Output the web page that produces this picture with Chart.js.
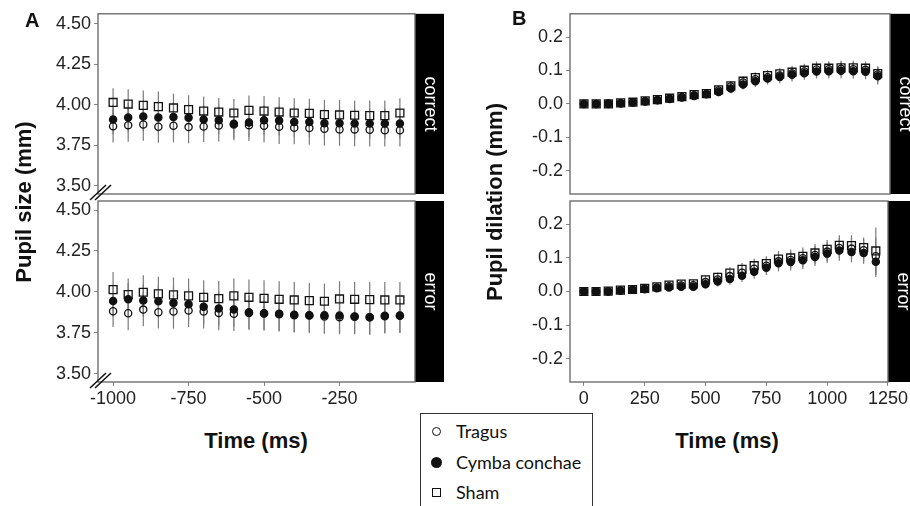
<!DOCTYPE html>
<html>
<head>
<meta charset="utf-8">
<script src="https://cdn.jsdelivr.net/npm/chart.js@4.4.1/dist/chart.umd.min.js"></script>
<style>
  body { margin: 0; background: #fff; width: 910px; height: 506px; overflow: hidden; position: relative; font-family: "Liberation Sans", Arial, sans-serif; }
  canvas { position: absolute; }
  .lbl { position: absolute; font-weight: bold; color: #111; white-space: nowrap; }
  .ytitle { position: absolute; font-weight: bold; font-size: 22px; color: #111; white-space: nowrap; transform: translate(-50%, -50%) rotate(-90deg); }
  .xtitle { position: absolute; font-weight: bold; font-size: 22px; color: #111; white-space: nowrap; transform: translate(-50%, -50%); }
  #legend { position: absolute; left: 420px; top: 413px; width: 171px; height: 110px; border: 1px solid #333; font-family: Lato, "Open Sans", sans-serif; font-size: 18px; color: #111; }
  .row { position: absolute; left: 0; width: 170px; height: 24px; line-height: 24px; white-space: nowrap; }
  .row span.t { position: absolute; left: 35px; top: 0; white-space: nowrap; }
  .mk { position: absolute; box-sizing: border-box; }
</style>
</head>
<body>
<canvas id="aTop" width="446" height="210" style="left:0;top:0"></canvas>
<canvas id="aBot" width="446" height="225" style="left:0;top:185px"></canvas>
<canvas id="bTop" width="450" height="210" style="left:460px;top:0"></canvas>
<canvas id="bBot" width="450" height="225" style="left:460px;top:185px"></canvas>

<div class="lbl" style="left:25px;top:9px;font-size:20px">A</div>
<div class="lbl" style="left:512px;top:7px;font-size:20px">B</div>
<div class="ytitle" style="left:24px;top:202px">Pupil size (mm)</div>
<div class="ytitle" style="left:495px;top:202px">Pupil dilation (mm)</div>
<div class="xtitle" style="left:256px;top:441px">Time (ms)</div>
<div class="xtitle" style="left:727px;top:441px">Time (ms)</div>

<div id="legend">
  <div class="row" style="top:5px"><div class="mk" style="left:11px;top:8px;width:9px;height:9px;border:1.3px solid #111;border-radius:50%"></div><span class="t">Tragus</span></div>
  <div class="row" style="top:36px"><div class="mk" style="left:10px;top:7px;width:11px;height:11px;background:#111;border-radius:50%"></div><span class="t">Cymba conchae</span></div>
  <div class="row" style="top:66px"><div class="mk" style="left:11px;top:8px;width:9px;height:9px;border:1.3px solid #111"></div><span class="t">Sham</span></div>
</div>

<script>
// ---- data ----
const timesA = [-1000, -950, -900, -850, -800, -750, -700, -650, -600, -550, -500, -450, -400, -350, -300, -250, -200, -150, -100, -50];
const timesB = [0, 50, 100, 150, 200, 250, 300, 350, 400, 450, 500, 550, 600, 650, 700, 750, 800, 850, 900, 950, 1000, 1050, 1100, 1150, 1200];

const ticksAx = [-1000, -750, -500, -250];
const ticksAy = [3.5, 3.75, 4.0, 4.25, 4.5];
const ticksBx = [0, 250, 500, 750, 1000, 1250];
const ticksBy = [-0.2, -0.1, 0.0, 0.1, 0.2];

// A: pupil size, correct trials
const aCorTragus = [3.868, 3.874, 3.878, 3.864, 3.870, 3.862, 3.866, 3.872, 3.878, 3.874, 3.870, 3.864, 3.858, 3.856, 3.852, 3.848, 3.848, 3.846, 3.843, 3.843];
const aCorCymba  = [3.909, 3.921, 3.927, 3.921, 3.925, 3.919, 3.909, 3.905, 3.882, 3.890, 3.905, 3.902, 3.894, 3.894, 3.886, 3.886, 3.884, 3.884, 3.884, 3.884];
const aCorSham   = [4.014, 4.004, 3.996, 3.988, 3.980, 3.970, 3.961, 3.955, 3.949, 3.965, 3.961, 3.955, 3.949, 3.947, 3.939, 3.937, 3.935, 3.933, 3.933, 3.949];
const aCorTragusErr = [0.100, 0.102, 0.100, 0.098, 0.102, 0.100, 0.096, 0.099, 0.097, 0.098, 0.102, 0.106, 0.101, 0.103, 0.104, 0.101, 0.104, 0.103, 0.101, 0.101];
const aCorCymbaErr  = [0.092, 0.090, 0.091, 0.090, 0.092, 0.091, 0.090, 0.089, 0.090, 0.091, 0.092, 0.091, 0.092, 0.093, 0.092, 0.093, 0.092, 0.093, 0.092, 0.092];
const aCorShamErr   = [0.088, 0.091, 0.091, 0.093, 0.088, 0.088, 0.089, 0.086, 0.086, 0.091, 0.093, 0.091, 0.091, 0.089, 0.091, 0.093, 0.091, 0.093, 0.093, 0.091];

// A: pupil size, error trials
const aErrTragus = [3.882, 3.870, 3.892, 3.876, 3.880, 3.886, 3.880, 3.872, 3.866, 3.872, 3.868, 3.864, 3.858, 3.856, 3.850, 3.846, 3.848, 3.846, 3.852, 3.854];
const aErrCymba  = [3.945, 3.955, 3.947, 3.943, 3.933, 3.925, 3.909, 3.898, 3.892, 3.876, 3.870, 3.866, 3.860, 3.858, 3.858, 3.856, 3.850, 3.846, 3.854, 3.856];
const aErrSham   = [4.014, 3.984, 3.998, 3.988, 3.982, 3.976, 3.967, 3.959, 3.976, 3.967, 3.961, 3.955, 3.951, 3.947, 3.943, 3.957, 3.955, 3.953, 3.951, 3.951];
const aErrTragusErr = [0.096, 0.104, 0.102, 0.100, 0.104, 0.100, 0.104, 0.106, 0.104, 0.102, 0.102, 0.104, 0.104, 0.106, 0.106, 0.104, 0.104, 0.106, 0.104, 0.104];
const aErrCymbaErr  = [0.098, 0.100, 0.099, 0.100, 0.101, 0.102, 0.103, 0.104, 0.104, 0.105, 0.106, 0.106, 0.106, 0.107, 0.108, 0.108, 0.108, 0.108, 0.107, 0.107];
const aErrShamErr   = [0.108, 0.098, 0.104, 0.104, 0.106, 0.106, 0.104, 0.108, 0.106, 0.108, 0.110, 0.110, 0.110, 0.108, 0.108, 0.108, 0.106, 0.108, 0.110, 0.110];

// B: pupil dilation, correct trials
const bCorTragus = [0, 0, 0, 0.002, 0.005, 0.008, 0.012, 0.016, 0.021, 0.026, 0.030, 0.040, 0.052, 0.064, 0.074, 0.080, 0.085, 0.091, 0.097, 0.103, 0.104, 0.105, 0.104, 0.102, 0.088];
const bCorCymba  = [0, 0, 0.001, 0.002, 0.004, 0.007, 0.011, 0.015, 0.019, 0.024, 0.029, 0.036, 0.046, 0.058, 0.068, 0.076, 0.081, 0.087, 0.092, 0.097, 0.098, 0.099, 0.098, 0.096, 0.083];
const bCorSham   = [0, 0, 0, 0.003, 0.005, 0.009, 0.013, 0.017, 0.022, 0.028, 0.031, 0.042, 0.054, 0.068, 0.079, 0.085, 0.090, 0.095, 0.101, 0.107, 0.107, 0.108, 0.108, 0.107, 0.091];
const bCorTragusErr = [0.002, 0.003, 0.003, 0.004, 0.005, 0.006, 0.007, 0.008, 0.009, 0.010, 0.011, 0.012, 0.014, 0.015, 0.016, 0.017, 0.018, 0.019, 0.019, 0.020, 0.021, 0.021, 0.021, 0.021, 0.023];
const bCorCymbaErr  = [0.002, 0.003, 0.003, 0.004, 0.005, 0.006, 0.007, 0.008, 0.009, 0.010, 0.011, 0.013, 0.014, 0.015, 0.017, 0.018, 0.019, 0.020, 0.020, 0.021, 0.022, 0.022, 0.022, 0.022, 0.025];
const bCorShamErr   = [0.002, 0.003, 0.003, 0.004, 0.005, 0.006, 0.007, 0.008, 0.009, 0.010, 0.011, 0.012, 0.014, 0.015, 0.016, 0.017, 0.018, 0.019, 0.019, 0.020, 0.021, 0.021, 0.021, 0.020, 0.022];

// B: pupil dilation, error trials
const bErrTragus = [0, 0, 0.001, 0.003, 0.005, 0.008, 0.012, 0.016, 0.018, 0.019, 0.028, 0.036, 0.046, 0.056, 0.068, 0.077, 0.090, 0.094, 0.099, 0.109, 0.119, 0.130, 0.128, 0.123, 0.105];
const bErrCymba  = [0, 0, 0, 0.003, 0.005, 0.007, 0.010, 0.012, 0.014, 0.014, 0.022, 0.030, 0.037, 0.047, 0.059, 0.071, 0.084, 0.088, 0.093, 0.103, 0.113, 0.122, 0.118, 0.115, 0.089];
const bErrSham   = [0, 0, 0.001, 0.004, 0.006, 0.009, 0.014, 0.019, 0.022, 0.023, 0.035, 0.042, 0.055, 0.066, 0.077, 0.083, 0.097, 0.100, 0.105, 0.115, 0.126, 0.138, 0.137, 0.131, 0.121];
const bErrTragusErr = [0.002, 0.003, 0.004, 0.005, 0.006, 0.007, 0.008, 0.010, 0.011, 0.012, 0.013, 0.015, 0.017, 0.019, 0.021, 0.022, 0.024, 0.025, 0.026, 0.027, 0.028, 0.030, 0.031, 0.032, 0.055];
const bErrCymbaErr  = [0.002, 0.003, 0.004, 0.005, 0.006, 0.007, 0.008, 0.010, 0.011, 0.012, 0.013, 0.015, 0.017, 0.019, 0.021, 0.022, 0.024, 0.025, 0.026, 0.027, 0.028, 0.030, 0.031, 0.032, 0.046];
const bErrShamErr   = [0.002, 0.003, 0.004, 0.005, 0.006, 0.007, 0.008, 0.010, 0.011, 0.012, 0.013, 0.015, 0.017, 0.019, 0.021, 0.022, 0.024, 0.025, 0.026, 0.027, 0.028, 0.030, 0.031, 0.030, 0.070];

// ---- helpers ----
const INK = '#111';
const FRAME = '#6e6e6e';

function series(x, y, err, kind) {
  const base = {
    data: x.map((t, i) => ({ x: t, y: y[i] })),
    errors: err,
    borderColor: INK,
    borderWidth: 1.3,
    showLine: false,
  };
  if (kind === 'tragus') return Object.assign(base, { label: 'Tragus', pointStyle: 'circle', pointRadius: 3.6, backgroundColor: 'rgba(0,0,0,0)' });
  if (kind === 'cymba') return Object.assign(base, { label: 'Cymba conchae', pointStyle: 'circle', pointRadius: 3.6, backgroundColor: INK });
  return Object.assign(base, { label: 'Sham', pointStyle: 'rect', pointRadius: 5.6, backgroundColor: 'rgba(0,0,0,0)' });
}

// error bars, panel frame, facet strip, axis break
const panelDeco = {
  id: 'panelDeco',
  beforeDatasetsDraw(chart) {
    const { ctx, scales: { x, y } } = chart;
    ctx.save();
    ctx.strokeStyle = '#7a7a7a';
    ctx.lineWidth = 1.2;
    chart.data.datasets.forEach(ds => {
      ds.data.forEach((p, i) => {
        const e = ds.errors[i];
        const px = x.getPixelForValue(p.x);
        ctx.beginPath();
        ctx.moveTo(px, y.getPixelForValue(p.y - e));
        ctx.lineTo(px, y.getPixelForValue(p.y + e));
        ctx.stroke();
      });
    });
    ctx.restore();
  },
  afterDraw(chart, args, opts) {
    const { ctx, chartArea: a } = chart;
    ctx.save();
    // strip
    ctx.fillStyle = '#000';
    ctx.fillRect(a.right, a.top, 29, a.bottom - a.top);
    ctx.fillStyle = '#fff';
    ctx.font = '18px "Liberation Sans", Arial, sans-serif';
    ctx.textAlign = 'center';
    ctx.textBaseline = 'middle';
    ctx.translate(a.right + 14.5, (a.top + a.bottom) / 2);
    ctx.rotate(Math.PI / 2);
    ctx.fillText(opts.strip, 0, 0);
    ctx.restore();
    // frame
    ctx.save();
    ctx.strokeStyle = FRAME;
    ctx.lineWidth = 1.4;
    ctx.strokeRect(a.left, a.top, a.right - a.left, a.bottom - a.top);
    if (opts.brk) {
      ctx.strokeStyle = INK;
      ctx.lineWidth = 1.5;
      [0, 5].forEach(d => {
        ctx.beginPath();
        ctx.moveTo(a.left - 8 + d, a.bottom + 6);
        ctx.lineTo(a.left + 8 + d, a.bottom - 9);
        ctx.stroke();
      });
    }
    ctx.restore();
  }
};

function fixTicks(list) {
  return axis => { axis.ticks = list.map(v => ({ value: v })); };
}

function makePanel(id, datasets, xr, yr, opt) {
  const tickFont = { family: '"Liberation Sans", Arial, sans-serif', size: 18 };
  return new Chart(document.getElementById(id), {
    type: 'scatter',
    data: { datasets },
    plugins: [panelDeco],
    options: {
      responsive: false,
      animation: false,
      events: [],
      layout: { padding: opt.pad },
      plugins: {
        legend: { display: false },
        tooltip: { enabled: false },
        panelDeco: { strip: opt.strip, brk: opt.brk },
      },
      scales: {
        x: {
          type: 'linear', min: xr[0], max: xr[1],
          display: opt.showX,
          afterBuildTicks: fixTicks(opt.xticks),
          afterFit: s => { if (opt.showX) s.height = 28; },
          grid: { drawOnChartArea: false, drawTicks: true, tickLength: 4, color: '#888' },
          border: { display: false },
          ticks: { font: tickFont, color: '#222', padding: 2, maxRotation: 0, callback: v => String(v) },
        },
        y: {
          type: 'linear', min: yr[0], max: yr[1],
          afterBuildTicks: fixTicks(opt.yticks),
          afterFit: s => { s.width = opt.yw; },
          grid: { drawOnChartArea: false, drawTicks: true, tickLength: 4, color: '#888' },
          border: { display: false },
          ticks: { font: tickFont, color: '#222', padding: 3, callback: v => v.toFixed(opt.dec) },
        },
      },
    },
  });
}

makePanel('aTop',
  [series(timesA, aCorTragus, aCorTragusErr, 'tragus'), series(timesA, aCorCymba, aCorCymbaErr, 'cymba'), series(timesA, aCorSham, aCorShamErr, 'sham')],
  [-1050, 0], [3.45, 4.56],
  { pad: { top: 13, right: 31, bottom: 16, left: 0 }, strip: 'correct', brk: true, showX: false, xticks: ticksAx, yticks: ticksAy, yw: 98, dec: 2 });

makePanel('aBot',
  [series(timesA, aErrTragus, aErrTragusErr, 'tragus'), series(timesA, aErrCymba, aErrCymbaErr, 'cymba'), series(timesA, aErrSham, aErrShamErr, 'sham')],
  [-1050, 0], [3.45, 4.555],
  { pad: { top: 16, right: 31, bottom: 0, left: 0 }, strip: 'error', brk: true, showX: true, xticks: ticksAx, yticks: ticksAy, yw: 98, dec: 2 });

makePanel('bTop',
  [series(timesB, bCorTragus, bCorTragusErr, 'tragus'), series(timesB, bCorCymba, bCorCymbaErr, 'cymba'), series(timesB, bCorSham, bCorShamErr, 'sham')],
  [-57, 1250], [-0.27, 0.27],
  { pad: { top: 13, right: 20, bottom: 16, left: 0 }, strip: 'correct', brk: false, showX: false, xticks: ticksBx, yticks: ticksBy, yw: 110, dec: 1 });

makePanel('bBot',
  [series(timesB, bErrTragus, bErrTragusErr, 'tragus'), series(timesB, bErrCymba, bErrCymbaErr, 'cymba'), series(timesB, bErrSham, bErrShamErr, 'sham')],
  [-57, 1250], [-0.27, 0.27],
  { pad: { top: 16, right: 20, bottom: 0, left: 0 }, strip: 'error', brk: false, showX: true, xticks: ticksBx, yticks: ticksBy, yw: 110, dec: 1 });
</script>
</body>
</html>
